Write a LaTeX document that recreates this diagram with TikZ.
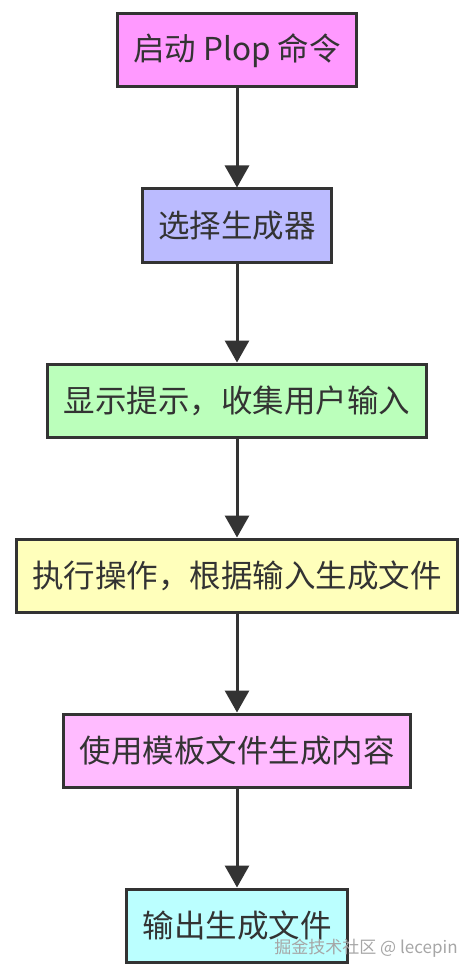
\documentclass[tikz,border=0pt]{standalone}
\usepackage{fontspec}
\newfontfamily\cjk{Noto Sans CJK SC}
\usetikzlibrary{positioning,arrows.meta}
\definecolor{contur}{HTML}{333333}
\definecolor{roz}{HTML}{FF99FF}
\definecolor{albastru}{HTML}{BBBBFF}
\definecolor{verde}{HTML}{BBFFBB}
\definecolor{galben}{HTML}{FFFFBB}
\definecolor{rozdeschis}{HTML}{FFBBFF}
\definecolor{turcoaz}{HTML}{BBFFFF}

\begin{document}
\begin{tikzpicture}[x=1pt,y=1pt,node distance=99pt,
  pas/.style={draw=contur,line width=3pt,minimum height=73pt,inner xsep=16pt,inner ysep=2pt,
    font=\cjk\fontsize{31.5}{36}\selectfont,text=contur},
  sageata/.style={draw=contur,line width=3pt,-{Triangle[width=24pt,length=22pt]}}]
  % cadru
  \useasboundingbox (0,0) rectangle (474,-976);

  % pașii
  \node[pas,fill=roz] (start) at (237,-50.5) {启动 Plop 命令};
  \node[pas,fill=albastru,below=of start] (alege) {选择生成器};
  \node[pas,fill=verde,below=of alege] (prompt) {显示提示，收集用户输入};
  \node[pas,fill=galben,below=of prompt] (actiune) {执行操作，根据输入生成文件};
  \node[pas,fill=rozdeschis,below=of actiune] (sablon) {使用模板文件生成内容};
  \node[pas,fill=turcoaz,below=of sablon] (iesire) {输出生成文件};

  % săgeți
  \draw[sageata] (start) -- (alege);
  \draw[sageata] (alege) -- (prompt);
  \draw[sageata] (prompt) -- (actiune);
  \draw[sageata] (actiune) -- (sablon);
  \draw[sageata] (sablon) -- (iesire);

  % filigran
  \node[font=\cjk\fontsize{17}{20}\selectfont,text=gray!70,inner sep=0pt] (semn) at (366,-948) {掘金技术社区 @ lecepin};
\end{tikzpicture}
\end{document}
